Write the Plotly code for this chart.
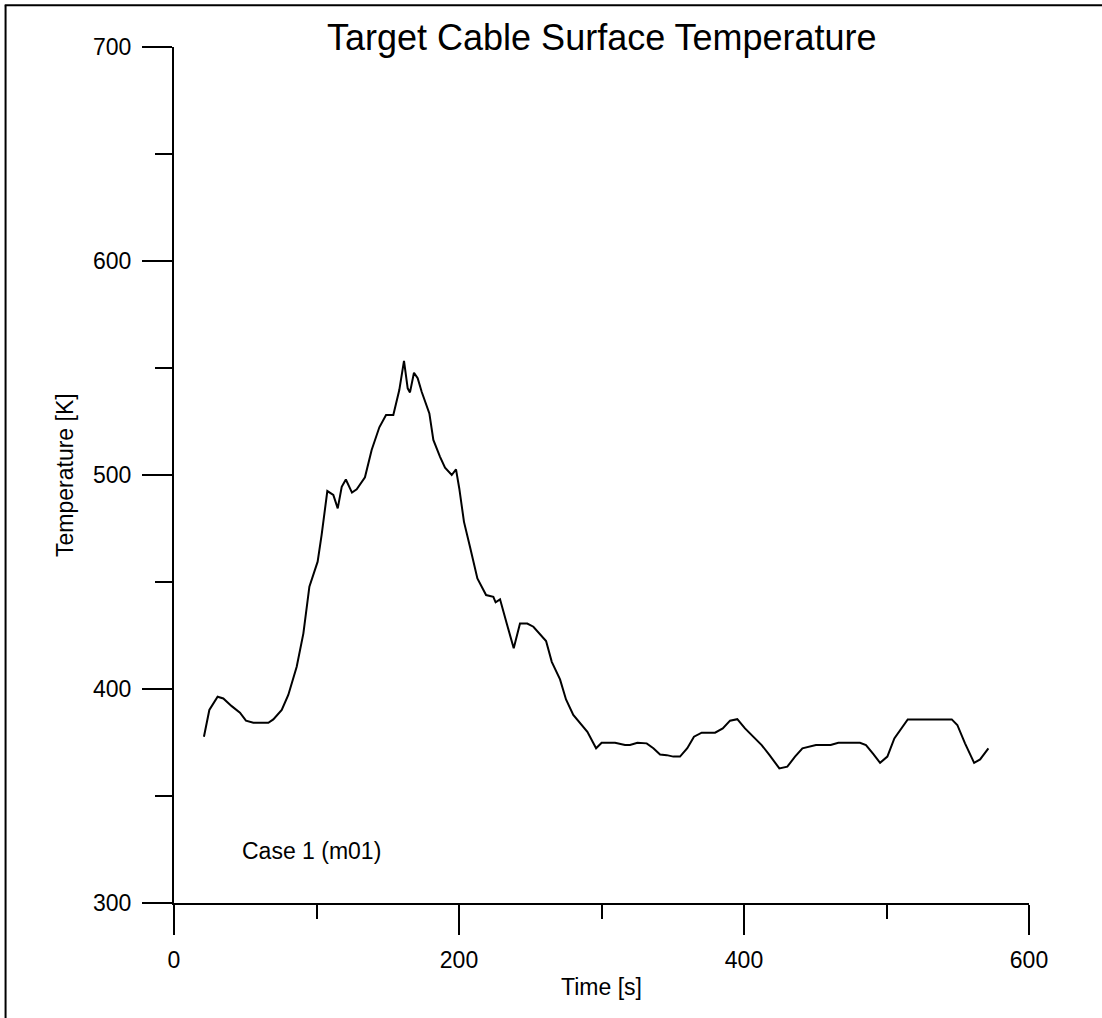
import plotly.graph_objects as go

# Cable surface temperature history
time_s = [21, 24.8, 30.6, 34.6, 40.5, 46.3, 50.5, 55.7, 66.2, 69.7, 75.6, 80.2, 86.1, 90.8,
          95, 100.8, 103.6, 107.6, 111.8, 114.9, 117.7, 120.6, 124.9, 128.2, 134, 138.7,
          144.1, 148.8, 153.9, 158.1, 161.4, 164, 165.6, 168.4, 171, 173.8, 179.2, 182,
          186.7, 190.2, 194.9, 197.9, 200.2, 203.5, 207.7, 212.9, 219, 224.1, 225.7,
          228.8, 233.5, 238.4, 242.8, 247.9, 252.2, 256.4, 261.1, 265.1, 270.9, 275.1,
          280.2, 290.1, 296.2, 300.1, 309.5, 316.5, 320, 325.2, 331.7, 336.4, 341.1,
          345.8, 350.4, 355.1, 360.2, 364.9, 370.3, 379.7, 385.1, 390.2, 395.3, 400.7,
          412.4, 417.8, 424.8, 430.4, 435.8, 441, 450.5, 460.8, 466.2, 481.4, 485.6,
          490.8, 495.5, 500.6, 505.5, 514.9, 545.8, 549.7, 555.1, 561.5, 565.7, 571.5]
temperature_k = [377.7, 390.2, 396.4, 395.6, 392, 388.9, 385.2, 384.2, 384.2, 385.8, 390.2,
                 397.2, 410.4, 426, 447.8, 459.5, 472, 492.5, 490.7, 484.4, 494.5, 497.9,
                 491.8, 493.3, 498.9, 511.7, 522.3, 528, 528, 539.7, 553.3, 540.5, 538.6,
                 547.8, 545.2, 538.9, 528.8, 516.4, 508.5, 503.4, 500, 502.6, 493.7, 478.1,
                 466.5, 451.7, 443.9, 443.1, 440.5, 441.9, 430.6, 419, 430.6, 430.6, 429.1,
                 426, 422.4, 412.7, 404.5, 395.1, 387.9, 380, 372.3, 374.9, 374.9, 373.8,
                 373.8, 374.9, 374.6, 372.3, 369.4, 369.1, 368.4, 368.4, 372.3, 377.7,
                 379.6, 379.6, 381.6, 385.2, 385.9, 381.6, 373.8, 369.2, 362.9, 363.7,
                 368.4, 372.3, 373.8, 373.8, 374.9, 374.9, 373.8, 369.6, 365.5, 368.4,
                 376.9, 385.8, 385.8, 383.2, 374.6, 365.5, 367.1, 372.3]

x_ticks = [0, 200, 400, 600]
y_ticks = [300, 400, 500, 600, 700]

FONT = "Liberation Sans, Arial, Helvetica, sans-serif"
TEXT_SIZE = 23

fig = go.Figure()
fig.add_trace(go.Scatter(x=time_s, y=temperature_k, mode="lines",
                         line=dict(color="black", width=2), showlegend=False))

axis_common = dict(
    showline=True, linecolor="black", linewidth=2, showgrid=False, zeroline=False,
    ticks="outside", ticklen=30, tickwidth=2, tickcolor="black",
    tickfont=dict(family=FONT, size=TEXT_SIZE, color="black"),
)

fig.update_xaxes(range=[0, 600], tickvals=x_ticks, ticklabelstandoff=5,
                 minor=dict(dtick=100, ticks="outside", ticklen=14, tickwidth=2,
                            tickcolor="black", showgrid=False),
                 **axis_common)
fig.update_yaxes(range=[300, 700], tickvals=y_ticks, ticklabelstandoff=6,
                 minor=dict(dtick=50, ticks="outside", ticklen=17, tickwidth=2,
                            tickcolor="black", showgrid=False),
                 **axis_common)

fig.add_annotation(text="Target Cable Surface Temperature", xref="paper", yref="paper",
                   x=0.5, y=1.011, xanchor="center", yanchor="middle", showarrow=False,
                   font=dict(family=FONT, size=36, color="black"))
fig.add_annotation(text="Time [s]", xref="paper", yref="paper",
                   x=0.5, y=-0.0981, xanchor="center", yanchor="middle", showarrow=False,
                   font=dict(family=FONT, size=TEXT_SIZE, color="black"))
fig.add_annotation(text="Temperature [K]", xref="paper", yref="paper", textangle=-90,
                   x=-0.1275, y=0.5, xanchor="center", yanchor="middle", showarrow=False,
                   font=dict(family=FONT, size=TEXT_SIZE, color="black"))
fig.add_annotation(text="Case 1 (m01)", xref="x", yref="y",
                   x=46, y=324.3, xanchor="left", yanchor="middle", showarrow=False,
                   font=dict(family=FONT, size=TEXT_SIZE, color="black"))

# frame lines along the left and top edges of the page
fig.add_shape(type="line", xref="paper", yref="paper", x0=-0.197, x1=-0.197,
              y0=1.0487, y1=-0.2, line=dict(color="black", width=2))
fig.add_shape(type="line", xref="paper", yref="paper", x0=-0.198, x1=1.2,
              y0=1.0487, y1=1.0487, line=dict(color="black", width=2))

fig.update_layout(
    width=1102, height=1018,
    margin=dict(l=174, r=73, t=47, b=115),
    paper_bgcolor="white", plot_bgcolor="white",
)

fig.write_html("out.html")
